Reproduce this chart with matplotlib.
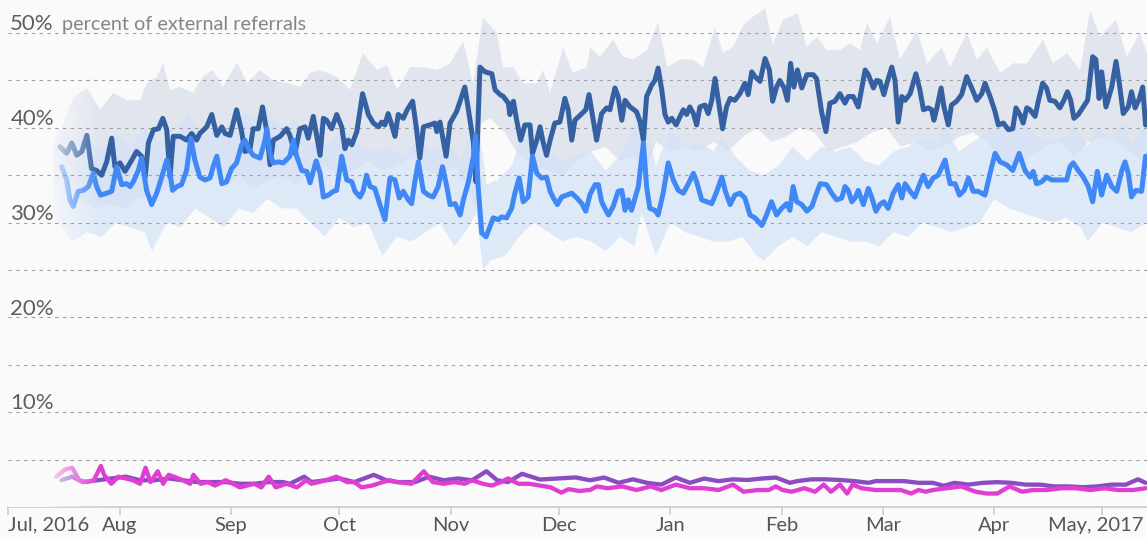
import numpy as np
import matplotlib
matplotlib.use("Agg")
import matplotlib.pyplot as plt
import matplotlib.dates as mdates
import matplotlib.transforms as mtransforms
from datetime import datetime

plt.rcParams["font.family"] = ["Lato", "DejaVu Sans"]

# (days since Jul 1 2016, percent of external referrals)
dark_line = [
    (14.4, 38.0), (16.3, 37.3), (17.7, 38.4), (19.1, 37.1), (20.5, 37.5), (21.9, 39.2), (23.2, 35.7),
    (24.6, 35.5), (26.0, 35.0), (27.4, 36.4), (28.8, 38.9), (29.7, 35.9), (31.1, 36.3), (32.5, 35.4),
    (34.4, 36.6), (35.7, 37.5), (37.1, 37.0), (38.1, 34.8), (39.0, 38.4), (40.4, 39.8), (41.8, 39.9),
    (43.0, 41.0), (44.1, 39.8), (45.0, 34.8), (45.9, 39.1), (47.8, 39.1), (49.6, 38.7), (51.0, 39.4),
    (52.4, 38.7), (53.3, 39.4), (55.2, 40.1), (56.6, 41.4), (58.0, 39.2), (59.4, 40.1), (60.3, 39.4),
    (61.7, 39.2), (63.5, 41.9), (64.9, 39.6), (65.8, 37.5), (67.2, 37.7), (68.1, 39.9), (69.5, 39.9),
    (70.7, 42.2), (71.9, 39.6), (72.8, 36.1), (73.7, 38.7), (75.6, 39.1), (77.4, 39.9), (78.3, 39.2),
    (79.7, 37.3), (81.1, 39.9), (82.5, 40.1), (83.4, 38.9), (84.8, 41.2), (86.7, 37.1), (87.6, 41.0),
    (88.5, 40.8), (89.9, 39.9), (91.3, 41.4), (92.7, 40.1), (93.6, 37.8), (94.5, 38.7), (95.5, 38.2),
    (96.9, 39.6), (98.5, 43.6), (100.1, 41.4), (101.5, 40.5), (102.9, 40.1), (103.8, 40.6), (104.7, 40.3),
    (105.6, 41.5), (106.6, 40.3), (107.5, 39.1), (108.4, 41.4), (109.8, 41.0), (110.9, 41.9), (112.4, 42.8),
    (113.5, 39.8), (114.4, 36.8), (115.4, 40.1), (117.2, 40.3), (118.6, 40.5), (119.1, 39.6), (120.0, 40.6),
    (121.7, 37.0), (122.8, 40.5), (124.6, 41.7), (126.0, 43.3), (126.9, 44.3), (127.9, 41.9), (129.3, 38.4),
    (130.0, 34.3), (131.1, 46.4), (132.5, 45.9), (134.4, 45.7), (135.3, 44.0), (136.7, 43.5), (137.6, 43.3),
    (139.0, 42.6), (139.4, 41.4), (140.4, 42.8), (141.3, 40.8), (142.4, 38.7), (143.6, 40.3), (145.0, 40.3),
    (145.7, 37.3), (146.9, 38.7), (147.8, 40.1), (148.7, 38.4), (149.6, 37.1), (150.6, 38.7), (151.9, 40.5),
    (153.3, 40.6), (154.7, 43.1), (155.6, 41.9), (156.6, 38.7), (157.5, 40.8), (159.4, 41.5), (160.5, 41.9),
    (161.4, 43.5), (162.1, 41.9), (163.5, 38.7), (164.9, 41.5), (166.3, 42.1), (167.2, 41.9), (168.6, 44.2),
    (169.5, 43.3), (170.5, 40.8), (171.4, 42.9), (172.8, 42.2), (174.6, 41.7), (175.6, 40.6), (176.5, 38.7),
    (177.4, 43.3), (178.8, 44.5), (179.7, 45.0), (180.6, 46.3), (181.6, 44.0), (182.5, 41.4), (183.4, 40.6),
    (184.4, 41.0), (185.6, 40.3), (186.7, 41.2), (187.6, 41.9), (188.5, 41.4), (189.4, 42.2), (190.4, 41.5),
    (191.3, 40.3), (192.2, 42.2), (193.6, 42.4), (194.5, 41.5), (195.5, 42.9), (196.4, 45.2), (197.3, 42.9),
    (198.5, 39.9), (199.6, 42.2), (200.6, 43.1), (201.9, 42.9), (203.3, 43.6), (204.7, 44.7), (205.6, 43.5),
    (206.6, 45.9), (207.5, 45.4), (208.9, 44.9), (210.3, 47.3), (211.5, 46.1), (212.4, 42.8), (213.5, 44.3),
    (214.4, 45.0), (215.6, 44.2), (216.5, 42.9), (217.4, 46.8), (218.3, 44.3), (219.3, 46.1), (220.5, 44.2),
    (221.9, 45.6), (223.7, 45.6), (224.6, 45.2), (226.0, 41.7), (227.2, 39.6), (228.3, 42.6), (229.7, 42.8),
    (231.1, 43.6), (232.5, 42.6), (233.4, 43.3), (234.8, 43.3), (236.2, 42.2), (238.1, 46.1), (239.0, 45.6),
    (240.4, 44.2), (241.3, 45.0), (242.2, 44.9), (243.3, 43.5), (244.3, 44.9), (245.5, 46.4), (246.4, 45.0),
    (247.3, 40.6), (248.3, 43.3), (249.2, 42.9), (250.6, 43.6), (252.2, 45.7), (253.3, 44.0), (254.3, 41.9),
    (255.6, 42.1), (256.6, 41.9), (257.2, 40.8), (258.1, 42.2), (259.2, 44.2), (260.0, 42.2), (261.2, 40.3),
    (262.1, 42.4), (263.5, 42.8), (264.9, 43.5), (266.3, 45.4), (267.7, 44.2), (269.1, 42.9), (270.5, 43.6),
    (271.4, 44.7), (272.8, 43.3), (274.2, 41.7), (275.1, 40.3), (276.5, 40.5), (277.9, 39.8), (279.1, 39.9),
    (280.0, 42.1), (281.1, 41.4), (282.0, 40.5), (283.0, 42.1), (283.9, 41.9), (285.3, 41.2), (286.2, 42.8),
    (287.4, 44.7), (288.5, 44.2), (289.4, 42.9), (290.8, 42.8), (292.2, 42.1), (293.3, 42.9), (294.3, 43.8),
    (295.2, 42.9), (296.1, 41.0), (297.3, 41.4), (298.7, 42.2), (299.9, 42.9), (301.3, 47.5), (302.2, 47.2),
    (303.1, 43.1), (303.8, 45.9), (305.0, 42.2), (306.6, 44.3), (307.8, 47.0), (308.7, 44.7), (309.8, 41.5),
    (311.2, 42.2), (312.1, 43.8), (313.1, 42.1), (314.3, 43.1), (315.2, 44.3), (316.0, 40.3),
]

light_line = [
    (14.9, 35.9), (16.3, 34.5), (17.2, 32.4), (18.1, 31.7), (19.5, 33.3), (20.9, 33.4), (22.3, 33.8),
    (23.7, 35.2), (24.6, 33.8), (25.7, 32.9), (27.4, 33.1), (28.8, 33.3), (30.2, 35.9), (31.6, 34.0),
    (33.0, 34.1), (33.9, 33.8), (34.8, 34.3), (36.2, 35.5), (37.1, 36.8), (38.5, 33.4), (39.9, 31.9),
    (41.3, 33.1), (42.7, 34.8), (44.1, 36.6), (45.0, 35.2), (45.7, 33.4), (46.9, 33.8), (48.2, 34.0),
    (49.6, 35.5), (50.8, 38.9), (51.9, 36.6), (53.3, 34.8), (54.7, 34.5), (56.1, 34.7), (57.0, 35.9),
    (58.0, 37.0), (59.4, 34.1), (60.7, 34.3), (62.1, 35.7), (63.5, 36.3), (64.9, 38.2), (65.8, 38.7),
    (66.8, 37.8), (68.1, 37.1), (70.0, 36.8), (71.4, 38.7), (71.9, 39.9), (72.8, 37.3), (73.7, 36.3),
    (75.1, 36.4), (76.5, 36.3), (78.3, 37.0), (79.3, 38.7), (80.2, 37.0), (81.6, 35.5), (83.0, 35.4),
    (83.9, 34.2), (85.6, 36.5), (86.7, 35.2), (87.6, 32.7), (89.0, 32.9), (90.4, 33.3), (91.3, 33.4),
    (92.7, 37.0), (94.1, 34.5), (95.5, 34.3), (96.4, 33.3), (97.8, 32.7), (98.7, 33.4), (99.6, 35.0),
    (100.6, 33.8), (101.9, 33.6), (103.3, 31.9), (104.7, 30.3), (106.1, 34.7), (107.5, 34.5), (108.7, 32.6),
    (109.8, 33.3), (111.2, 32.4), (112.1, 32.0), (113.1, 34.5), (114.0, 36.4), (115.4, 33.3), (116.8, 32.9),
    (118.1, 32.7), (119.5, 33.8), (120.7, 35.9), (121.9, 33.8), (122.8, 31.9), (124.2, 32.0), (125.6, 30.8),
    (126.5, 32.4), (127.9, 34.3), (129.3, 37.0), (129.9, 39.2), (130.6, 33.8), (131.6, 28.9), (132.8, 28.5),
    (133.9, 29.6), (134.8, 30.5), (136.2, 30.3), (137.1, 30.6), (138.5, 30.5), (139.9, 31.5), (140.8, 33.1),
    (142.0, 34.7), (143.1, 32.2), (144.5, 32.7), (145.7, 37.0), (146.9, 35.2), (148.2, 34.7), (149.6, 34.8),
    (150.6, 33.3), (151.5, 32.6), (152.6, 31.9), (153.8, 32.7), (155.2, 32.9), (156.6, 33.1), (158.0, 32.6),
    (159.4, 32.0), (160.5, 31.2), (161.7, 33.0), (163.1, 34.0), (164.0, 34.0), (164.9, 32.2), (165.8, 31.5),
    (166.8, 30.8), (168.1, 31.7), (169.5, 33.3), (170.5, 33.4), (171.4, 31.3), (172.3, 32.4), (173.2, 31.3),
    (174.2, 32.6), (175.1, 33.8), (176.5, 38.4), (177.4, 33.8), (178.3, 31.5), (179.7, 31.3), (180.6, 30.8),
    (182.0, 33.1), (183.4, 36.3), (184.8, 34.5), (186.2, 33.4), (187.6, 33.1), (189.0, 34.1), (190.4, 35.2),
    (191.3, 34.3), (192.7, 32.4), (194.1, 32.2), (195.5, 32.0), (196.9, 33.3), (198.3, 34.8), (199.2, 33.4),
    (200.6, 31.9), (201.9, 32.9), (203.3, 33.1), (204.7, 32.6), (206.1, 30.8), (207.5, 30.5), (209.4, 29.7),
    (210.7, 30.8), (212.1, 32.2), (213.5, 30.8), (214.9, 31.5), (216.3, 32.0), (217.2, 31.3), (218.1, 33.8),
    (219.1, 32.2), (220.5, 31.9), (221.9, 31.2), (223.3, 31.7), (224.6, 33.1), (225.6, 34.1), (227.4, 34.0),
    (228.8, 33.1), (230.2, 32.4), (231.6, 32.6), (232.5, 33.8), (233.4, 33.4), (234.4, 32.2), (235.3, 32.6),
    (236.2, 33.4), (237.6, 31.9), (239.0, 33.6), (239.9, 32.7), (241.1, 31.2), (242.2, 31.9), (243.3, 32.2),
    (244.5, 31.5), (245.9, 33.1), (247.3, 34.0), (248.3, 32.6), (249.2, 34.1), (250.6, 33.3), (251.9, 32.7),
    (253.3, 34.1), (254.3, 35.0), (255.6, 33.8), (257.0, 34.7), (258.4, 35.0), (260.3, 36.6), (261.7, 34.1),
    (263.1, 34.1), (264.3, 32.9), (265.6, 33.4), (266.8, 34.7), (268.1, 33.3), (269.5, 33.3), (271.4, 32.9),
    (272.8, 35.2), (274.2, 37.3), (275.6, 36.4), (277.4, 36.1), (279.1, 35.5), (280.9, 37.3), (282.5, 35.5),
    (283.9, 34.8), (284.8, 35.4), (285.7, 34.1), (287.1, 34.3), (288.5, 34.8), (289.9, 34.5), (291.8, 34.5),
    (294.1, 34.5), (295.0, 35.9), (295.9, 36.3), (297.3, 35.5), (298.7, 34.8), (300.1, 33.8), (301.3, 32.2),
    (302.6, 35.4), (303.8, 32.9), (305.2, 35.0), (306.6, 33.8), (308.0, 33.3), (309.4, 35.5), (310.3, 36.4),
    (311.2, 35.2), (312.1, 32.7), (313.3, 33.4), (314.9, 33.3), (316.0, 37.0),
]

dark_band_hi = [
    (12.5, 38.0), (14.4, 39.5), (18.1, 43.2), (21.9, 44.2), (25.6, 41.9), (29.2, 43.7), (33.1, 42.9),
    (36.7, 42.9), (38.6, 44.7), (41.4, 45.4), (43.1, 46.8), (45.0, 44.0), (47.8, 44.3), (51.4, 43.7),
    (54.2, 45.4), (56.9, 46.1), (59.7, 44.3), (63.6, 46.9), (66.4, 44.7), (70.0, 46.1), (73.6, 45.0),
    (77.8, 44.7), (81.1, 44.3), (83.9, 45.8), (86.7, 46.1), (91.4, 45.4), (95.0, 44.0), (98.6, 47.9),
    (102.5, 46.1), (105.3, 46.6), (108.1, 44.0), (111.7, 46.4), (115.3, 46.4), (119.2, 46.1), (122.8, 46.8),
    (126.4, 49.1), (129.2, 44.7), (131.9, 51.6), (133.9, 50.8), (135.8, 50.0), (137.5, 46.4), (140.3, 46.4),
    (143.1, 44.7), (146.9, 44.7), (148.6, 46.1), (150.6, 43.7), (154.2, 48.5), (156.9, 45.8), (160.8, 46.4),
    (161.7, 48.5), (164.4, 47.5), (168.1, 49.3), (170.8, 47.5), (173.6, 47.2), (177.5, 48.2), (180.6, 51.2),
    (183.1, 46.4), (186.7, 47.2), (190.3, 47.2), (193.1, 46.4), (196.4, 50.6), (198.6, 47.9), (201.4, 48.5),
    (204.2, 50.8), (206.9, 51.7), (210.3, 52.6), (212.5, 48.9), (215.3, 51.4), (217.2, 51.7), (219.4, 52.1),
    (221.9, 48.5), (224.7, 49.6), (227.5, 48.2), (231.1, 48.2), (233.9, 48.9), (236.7, 48.2), (238.6, 51.1),
    (241.4, 48.9), (245.0, 51.7), (247.8, 47.2), (252.5, 50.3), (255.3, 46.8), (259.4, 48.5), (261.7, 46.4),
    (266.4, 50.0), (269.2, 47.2), (271.9, 48.5), (275.6, 45.8), (279.2, 46.8), (283.1, 46.8), (287.5, 49.3),
    (290.3, 46.8), (294.2, 47.9), (297.8, 46.1), (300.6, 52.4), (303.3, 49.6), (307.8, 51.4), (310.8, 47.5),
    (314.4, 50.0), (316.4, 47.9),
]

dark_band_lo = [
    (12.5, 34.5), (16, 33.0), (20, 32.5), (24, 31.5), (28, 32.0), (32, 31.5), (36, 32.5), (40, 33.0),
    (44, 33.5), (48, 34.5), (52, 35.0), (56, 35.5), (60, 34.0), (64, 35.0), (68, 33.5), (72, 34.5),
    (76, 35.0), (80, 34.0), (84, 35.5), (88, 36.0), (92, 35.0), (96, 35.5), (100, 36.5), (104, 35.5),
    (108, 36.0), (112, 37.0), (116, 35.5), (120, 35.0), (124, 36.0), (128, 33.5), (130, 31.0), (131.5, 40.5),
    (134, 41.0), (138, 39.5), (142, 37.0), (146, 36.0), (150, 35.5), (154, 35.0), (158, 36.5), (162, 37.5),
    (166, 38.0), (170, 36.5), (174, 37.0), (177, 35.0), (180, 38.5), (184, 37.5), (188, 38.0), (192, 37.5),
    (196, 38.5), (200, 37.5), (204, 39.0), (208, 40.0), (212, 38.5), (216, 39.0), (220, 40.0), (224, 39.5),
    (228, 37.5), (232, 38.0), (236, 38.5), (240, 39.5), (244, 40.0), (248, 38.0), (252, 38.5), (256, 37.5),
    (260, 38.0), (264, 39.0), (268, 39.5), (272, 38.5), (276, 36.5), (280, 36.0), (284, 37.0), (288, 38.0),
    (292, 38.5), (296, 37.0), (300, 38.5), (304, 39.0), (308, 38.5), (312, 37.5), (316.4, 36.0),
]

light_band_hi = [
    (12.5, 38.5), (14, 40.0), (18, 38.5), (22, 39.0), (26, 37.5), (30, 39.5), (34, 38.0), (38, 40.0),
    (42, 38.5), (46, 39.0), (50, 41.5), (54, 39.0), (58, 40.0), (62, 39.0), (66, 41.5), (70, 40.5),
    (72, 42.0), (76, 40.0), (80, 41.0), (84, 38.5), (88, 38.0), (93, 40.0), (98, 38.0), (102, 37.5),
    (106, 38.0), (110, 37.0), (114, 39.0), (118, 37.5), (122, 38.5), (126, 36.5), (130, 42.0), (133, 34.0),
    (136, 34.5), (140, 36.0), (142, 38.5), (146, 40.0), (150, 37.5), (154, 36.5), (158, 37.0), (162, 37.5),
    (166, 35.5), (170, 37.0), (176, 42.0), (180, 36.0), (184, 40.0), (188, 38.0), (192, 38.5), (196, 37.5),
    (198, 39.0), (202, 37.0), (206, 35.5), (210, 35.0), (214, 36.0), (218, 38.0), (222, 36.5), (226, 38.0),
    (230, 37.5), (234, 38.0), (238, 36.5), (242, 36.0), (246, 37.5), (250, 38.0), (254, 39.0), (258, 38.5),
    (260, 40.5), (264, 37.5), (268, 38.5), (272, 39.5), (274, 41.5), (278, 40.0), (281, 41.5), (286, 39.0),
    (290, 38.5), (294, 39.0), (296, 40.5), (300, 38.0), (302, 40.0), (306, 39.0), (310, 40.5), (312, 38.0),
    (316.4, 41.0),
]

light_band_lo = [
    (12.5, 31.0), (14, 30.0), (18, 28.0), (22, 29.0), (26, 28.5), (30, 30.0), (34, 29.5), (38, 29.0),
    (40, 27.0), (44, 30.0), (48, 29.5), (52, 31.5), (56, 30.5), (60, 29.5), (64, 31.5), (68, 31.0),
    (72, 32.5), (76, 31.5), (80, 31.5), (84, 30.0), (88, 28.5), (92, 30.5), (96, 29.5), (100, 30.0),
    (104, 26.5), (108, 28.5), (112, 28.0), (116, 29.0), (120, 30.0), (124, 27.5), (128, 29.5), (130, 31.0),
    (132, 25.0), (134, 26.0), (138, 26.5), (142, 28.5), (146, 30.0), (150, 29.0), (154, 28.0), (158, 28.5),
    (162, 28.0), (166, 27.0), (170, 28.5), (174, 27.5), (176, 31.0), (180, 26.5), (184, 30.0), (188, 29.0),
    (192, 28.5), (196, 28.0), (200, 28.0), (204, 28.5), (208, 26.5), (210, 26.0), (214, 27.5), (218, 28.5),
    (222, 27.5), (226, 29.0), (230, 28.5), (234, 28.0), (238, 28.0), (242, 27.5), (246, 29.0), (250, 28.5),
    (254, 30.0), (258, 29.5), (262, 29.0), (266, 29.5), (270, 30.0), (274, 32.5), (278, 31.5), (282, 31.0),
    (286, 30.5), (290, 30.0), (294, 30.5), (298, 29.5), (300, 28.0), (304, 30.0), (308, 29.5), (312, 29.0),
    (316.4, 30.0),
]

purple_line = [
    (14.8, 2.82), (17.8, 3.2), (20.8, 2.63), (24.8, 2.82), (28.7, 3.01), (32.7, 3.2), (36.7, 2.82),
    (40.6, 2.82), (44.6, 3.01), (48.6, 2.82), (52.5, 2.63), (56.5, 2.63), (60.5, 2.63), (64.4, 2.45),
    (68.4, 2.45), (72.4, 2.63), (76.4, 2.63), (78.3, 2.45), (82.3, 3.2), (84.3, 2.63), (88.3, 2.82),
    (92.2, 3.01), (96.2, 2.63), (101.6, 3.39), (105.1, 2.82), (108.1, 2.63), (113.1, 2.63), (117.0, 3.2),
    (121.0, 2.82), (125.0, 3.01), (128.9, 2.82), (132.9, 3.77), (135.9, 2.82), (138.9, 2.63), (142.8, 3.5),
    (147.8, 2.9), (152.7, 3.01), (157.7, 3.12), (161.7, 2.82), (165.6, 3.11), (169.6, 2.55), (173.6, 2.92),
    (177.5, 2.55), (181.5, 2.36), (185.5, 3.11), (189.4, 2.55), (193.4, 3.0), (197.4, 2.73), (201.4, 2.92),
    (205.3, 2.85), (209.3, 3.0), (213.3, 3.11), (217.2, 2.55), (219.2, 2.73), (223.2, 2.92), (227.1, 2.92),
    (231.1, 2.85), (235.1, 2.73), (239.1, 2.55), (241.0, 2.73), (245.0, 2.73), (249.0, 2.73), (252.9, 2.55),
    (256.9, 2.55), (259.9, 2.24), (262.9, 2.55), (266.8, 2.36), (270.8, 2.55), (274.8, 2.62), (278.7, 2.55),
    (282.7, 2.36), (286.7, 2.36), (290.6, 2.17), (294.6, 2.17), (298.6, 2.09), (302.5, 2.17), (306.5, 2.36),
    (310.5, 2.36), (313.9, 2.92), (316.0, 2.55),
]

magenta_line = [
    (13.4, 3.2), (15.8, 3.95), (17.8, 4.14), (19.8, 2.82), (21.8, 2.63), (23.8, 2.82), (25.8, 4.33),
    (26.7, 3.39), (28.7, 2.45), (30.7, 3.2), (32.7, 3.01), (34.7, 2.82), (36.7, 2.45), (38.2, 4.14),
    (39.6, 2.63), (41.6, 3.77), (43.1, 2.45), (44.6, 3.39), (46.1, 3.2), (48.6, 2.82), (50.6, 2.45),
    (51.5, 3.39), (53.5, 2.45), (55.5, 2.63), (57.5, 2.26), (60.5, 2.82), (62.5, 2.45), (64.4, 2.07),
    (66.4, 2.26), (68.4, 2.45), (70.4, 2.07), (72.4, 3.2), (74.4, 2.07), (77.3, 2.45), (80.3, 2.07),
    (82.8, 2.82), (84.3, 2.45), (86.3, 2.63), (88.3, 2.82), (91.2, 3.2), (94.2, 2.63), (96.2, 2.63),
    (98.2, 2.07), (101.1, 2.26), (104.1, 2.63), (106.1, 2.82), (108.1, 2.63), (112.1, 2.45), (115.5, 3.77),
    (118.0, 2.63), (121.0, 2.45), (124.0, 2.63), (126.9, 2.45), (128.9, 2.82), (131.9, 2.45), (134.4, 2.26),
    (136.9, 2.63), (138.9, 3.01), (141.8, 2.45), (144.8, 2.45), (147.8, 2.26), (150.8, 2.07), (153.7, 1.51),
    (155.7, 1.88), (158.7, 1.69), (161.7, 1.8), (163.6, 2.17), (166.6, 1.98), (170.6, 2.17), (174.6, 1.79),
    (178.5, 2.17), (181.5, 1.79), (185.5, 2.36), (189.4, 1.98), (193.4, 1.98), (197.4, 1.79), (201.4, 2.36),
    (204.3, 1.61), (208.3, 1.79), (211.3, 1.79), (213.3, 2.17), (215.2, 1.79), (217.7, 1.61), (221.2, 1.98),
    (224.2, 1.61), (226.6, 2.36), (228.6, 1.61), (231.1, 2.36), (233.1, 1.42), (234.6, 2.36), (237.1, 1.98),
    (241.0, 1.79), (244.0, 1.79), (248.0, 1.79), (250.9, 1.42), (252.9, 1.79), (254.9, 1.61), (256.9, 1.79),
    (260.9, 1.98), (264.8, 2.17), (268.8, 1.61), (271.8, 1.42), (274.8, 1.42), (278.2, 2.17), (281.7, 1.61),
    (284.7, 1.79), (288.6, 1.79), (292.6, 1.98), (296.6, 1.98), (300.6, 1.79), (304.5, 1.98), (308.5, 1.79),
    (312.5, 1.79), (316.0, 1.98),
]

month_ticks = [datetime(2016, 7, 1), datetime(2016, 8, 1), datetime(2016, 9, 1), datetime(2016, 10, 1),
               datetime(2016, 11, 1), datetime(2016, 12, 1), datetime(2017, 1, 1), datetime(2017, 2, 1),
               datetime(2017, 3, 1), datetime(2017, 4, 1), datetime(2017, 5, 1)]
month_labels = ["Jul, 2016", "Aug", "Sep", "Oct", "Nov", "Dec", "Jan", "Feb", "Mar", "Apr", "May, 2017"]
y_labels = [10, 20, 30, 40, 50]

BG = "#fafafa"
start = mdates.date2num(datetime(2016, 7, 1))
x_end = start + 316.4
y_top = 53.48


def xy(pairs):
    d, v = zip(*pairs)
    return start + np.array(d), np.array(v)


fig = plt.figure(figsize=(11.47, 5.37), dpi=100, facecolor=BG)
ax = fig.add_axes([8 / 1147, 30 / 537, 1139 / 1147, 507 / 537])
ax.set_facecolor(BG)

# confidence bands, drawn as closed polygons from the two edges
for hi, lo, col, a in [(dark_band_hi, dark_band_lo, "#dde3ed", 0.85),
                       (light_band_hi, light_band_lo, "#d3e2f8", 0.7)]:
    hx, hy = xy(hi)
    lx, ly = xy(lo)
    ax.fill(np.concatenate([hx, lx[::-1]]), np.concatenate([hy, ly[::-1]]),
            color=col, alpha=a, lw=0, zorder=1)

grid_style = dict(color="#a0a0a0", lw=0.8, ls=(0, (3, 4)))
for v in range(5, 55, 5):
    ax.plot([start, x_end], [v, v], zorder=2, **grid_style)

for pairs, col, lw in [(dark_line, "#3561a2", 3.6),
                       (light_line, "#3f88f5", 3.6),
                       (purple_line, "#8a4cc0", 3.1),
                       (magenta_line, "#e03ed3", 3.1)]:
    x, y = xy(pairs)
    ax.plot(x, y, color=col, lw=lw, solid_joinstyle="round", solid_capstyle="round", zorder=3)

# series fade in from the left edge
fade = np.zeros((1, 128, 4))
fade[..., :3] = matplotlib.colors.to_rgb(BG)
fade[..., 3] = np.linspace(0.85, 0.0, 128)
ax.imshow(fade, extent=[start + 11, start + 25, 0, y_top], aspect="auto", zorder=4,
          interpolation="bilinear")
ax.fill_between([start, start + 11], 0, y_top, color=BG, lw=0, zorder=4)
for v in range(5, 55, 5):
    ax.plot([start, start + 25], [v, v], zorder=5, **grid_style)

ax.set_xlim(start, x_end)
ax.set_ylim(0, y_top)

trans = mtransforms.blended_transform_factory(ax.transAxes, ax.transData)
for v in y_labels:
    ax.text(0.002, v + 0.3, f"{v}%", transform=trans, ha="left", va="baseline",
            fontsize=16, color="#5e5e5e", zorder=6)
ax.text(0.0475, 50.3, "percent of external referrals", transform=trans, ha="left",
        va="baseline", fontsize=14.3, color="#858585", zorder=6)

for side in ["top", "right", "left"]:
    ax.spines[side].set_visible(False)
ax.spines["bottom"].set_color("#cccccc")
ax.spines["bottom"].set_linewidth(1.2)
ax.set_yticks([])
ax.set_xticks([mdates.date2num(t) for t in month_ticks], month_labels)
ax.tick_params(axis="x", length=6, width=1.2, color="#cccccc", pad=1,
               labelsize=14.5, labelcolor="#555555")
tick_labels = ax.get_xticklabels()
tick_labels[0].set_horizontalalignment("left")
# keep the last month label inside the right edge
tick_labels[-1].set_transform(tick_labels[-1].get_transform() +
                              mtransforms.ScaledTranslation(-5 / 72, 0, fig.dpi_scale_trans))

fig.savefig("out.png", dpi=100, facecolor=BG)
